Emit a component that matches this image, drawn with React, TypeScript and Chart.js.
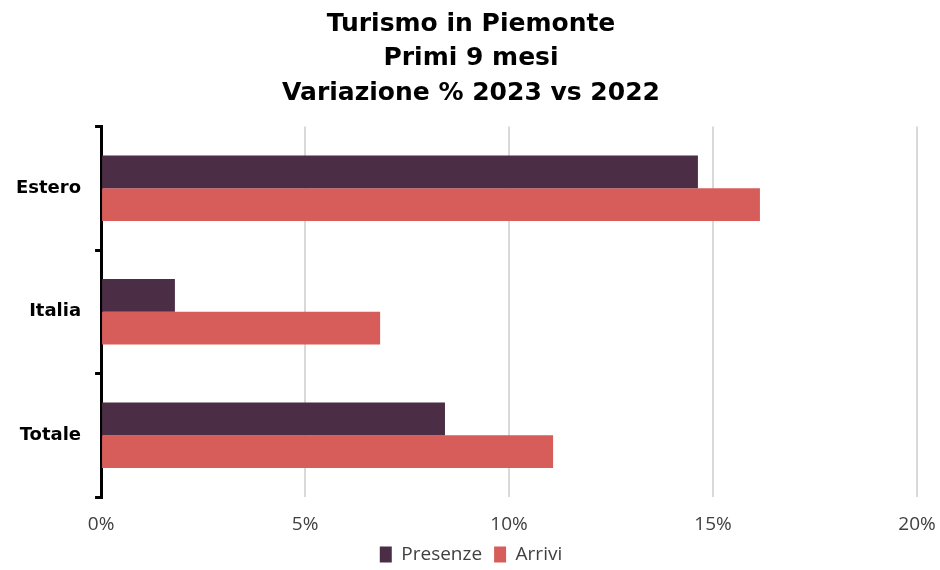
import React, { useEffect, useRef } from "react";
import { Chart, registerables } from "chart.js";

Chart.register(...registerables);

const categories = ["Estero", "Italia", "Totale"];
const presenze = [14.63, 1.81, 8.43];
const arrivi = [16.15, 6.84, 11.08];
const titleLines = ["Turismo in Piemonte", "Primi 9 mesi", "Variazione % 2023 vs 2022"];

const FONT = "'Open Sans', 'DejaVu Sans', sans-serif";
const BOLD_FONT = "'DejaVu Sans', 'Open Sans', sans-serif";

export default function App() {
  const ref = useRef<HTMLCanvasElement>(null);
  useEffect(() => {
    const chart = new Chart(ref.current!, {
      type: "bar",
      data: {
        labels: categories,
        datasets: [
          { label: "Presenze", data: presenze, backgroundColor: "#4B2E45", borderColor: "#4B2E45", barPercentage: 1, categoryPercentage: 0.53 },
          { label: "Arrivi", data: arrivi, backgroundColor: "#D75D5B", borderColor: "#D75D5B", barPercentage: 1, categoryPercentage: 0.53 },
        ],
      },
      options: {
        indexAxis: "y",
        animation: false,
        responsive: false,
        maintainAspectRatio: false,
        layout: { padding: { left: 2, right: 0, top: 7, bottom: -4 } },
        plugins: {
          title: {
            display: true,
            text: titleLines,
            color: "#000",
            font: { family: BOLD_FONT, size: 25, weight: "bold", lineHeight: 1.38 },
            padding: { top: 0, bottom: 16 },
          },
          legend: {
            position: "bottom",
            labels: {
              color: "#404040",
              font: { family: FONT, size: 19 },
              boxWidth: 12,
              boxHeight: 16,
              padding: 12,
            },
          },
          tooltip: { enabled: false },
        },
        scales: {
          x: {
            min: 0,
            max: 20,
            afterFit: (scale: any) => {
              scale.paddingRight = 23;
              scale.height = 36;
            },
            ticks: {
              stepSize: 5,
              color: "#404040",
              font: { family: FONT, size: 19 },
              padding: 16,
              callback: (v: any) => v + "%",
            },
            grid: { color: "#d9d9d9", lineWidth: 2, drawTicks: false },
            border: { display: false },
          },
          y: {
            offset: true,
            ticks: {
              color: "#000",
              font: { family: BOLD_FONT, size: 18, weight: "bold" },
              padding: 14,
            },
            grid: {
              offset: true,
              drawOnChartArea: false,
              color: "#000",
              lineWidth: 3,
              tickLength: 6,
            },
            border: { display: true, color: "#000", width: 3 },
          },
        },
      },
    });
    return () => chart.destroy();
  }, []);
  return (
    <div style={{ position: "fixed", left: 0, top: 0, width: 940, height: 570, background: "#fff" }}>
      <canvas ref={ref} width={940} height={570} />
    </div>
  );
}
